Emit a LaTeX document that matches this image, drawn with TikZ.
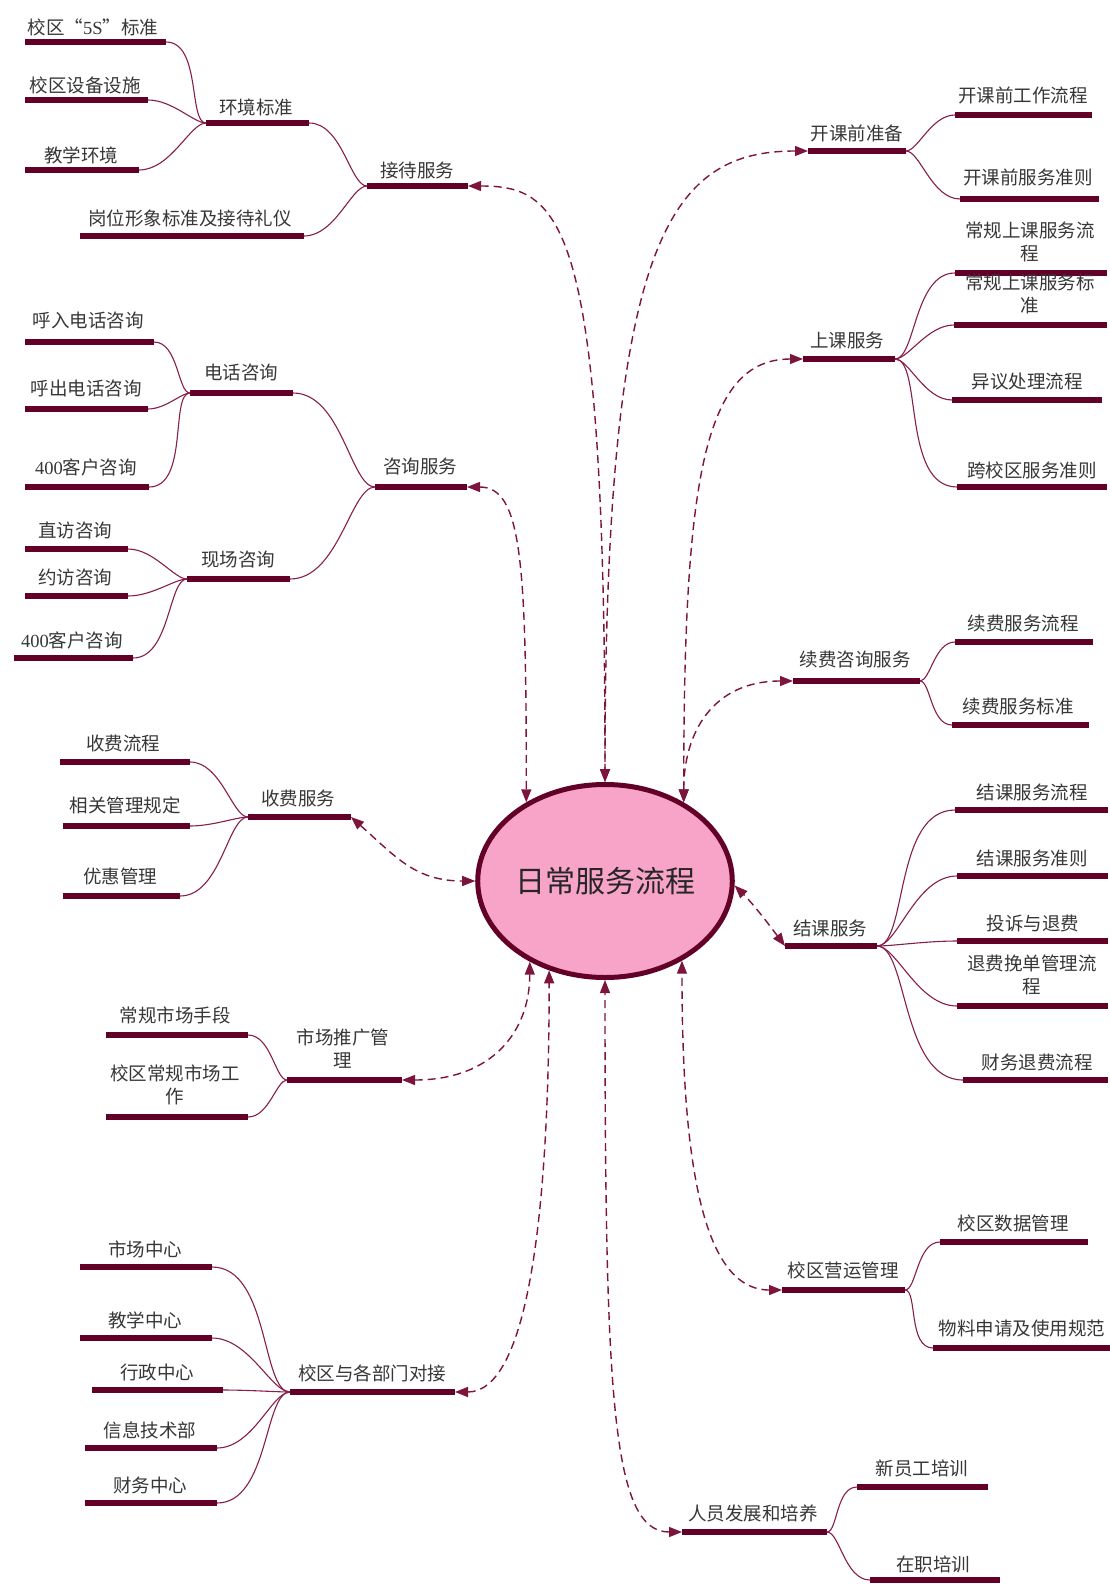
\documentclass[tikz,border=0pt]{standalone}
\usepackage{fontspec}
\setmainfont{Noto Sans CJK SC}
\newfontfamily\latinserif{Liberation Serif}
\usetikzlibrary{shapes.geometric,arrows.meta}
\definecolor{barcol}{RGB}{99,0,40}
\definecolor{twigcol}{RGB}{135,30,75}
\definecolor{dashcol}{RGB}{125,20,60}
\definecolor{pinkfill}{RGB}{248,164,200}
\definecolor{textcol}{RGB}{55,55,55}
\newcommand\mmbar[4]{\draw[barline] (#2,#4) coordinate (#1-l) -- (#3,#4) coordinate (#1-r);}
\begin{document}
\begin{tikzpicture}[x=1pt,y=-1pt,
  barline/.style={line width=5.8pt,draw=barcol,line cap=butt},
  twig/.style={line width=1.1pt,draw=twigcol},
  twigL/.style={twig,out=0,in=180,in looseness=0.5},
  twigR/.style={twig,out=0,in=180,out looseness=0.5},
  link/.style={line width=1.4pt,draw=dashcol,dash pattern=on 8pt off 5pt,
    {Triangle[length=13pt,width=10pt]}-{Triangle[length=13pt,width=10pt]}},
  lbl/.style={font=\fontsize{18.5pt}{23pt}\selectfont,text=textcol,inner sep=0pt,align=center},
  corestyle/.style={ellipse,draw=barcol,line width=5pt,fill=pinkfill,minimum width=250pt,
    minimum height=193pt,inner sep=0pt,font=\fontsize{30pt}{36pt}\selectfont,text=black!85}
]
\useasboundingbox (0,0) rectangle (1110,1584);
\fill[white] (0,0) rectangle (1110,1584);

% ---------- centre ----------
\node[corestyle] (core) at (605,881) {日常服务流程};

% ---------- left: 接待服务 ----------
\mmbar{k5s}{25}{166}{42}   \node[lbl] (k5s-t) at (93,27) {校区“{\latinserif 5S}”标准};
\mmbar{ksb}{25}{148}{100}  \node[lbl] (ksb-t) at (85,85) {校区设备设施};
\mmbar{kjx}{25}{139}{170}  \node[lbl] (kjx-t) at (81,155) {教学环境};
\mmbar{khj}{206}{309}{123} \node[lbl] (khj-t) at (256,107) {环境标准};
\mmbar{kjd}{367}{468}{186} \node[lbl] (kjd-t) at (417,170) {接待服务};
\mmbar{kgw}{80}{304}{236}  \node[lbl] (kgw-t) at (190,218) {岗位形象标准及接待礼仪};

% ---------- left: 咨询服务 ----------
\mmbar{khr}{25}{154}{342}  \node[lbl] (khr-t) at (88,321) {呼入电话咨询};
\mmbar{khc}{25}{148}{409}  \node[lbl] (khc-t) at (86,389) {呼出电话咨询};
\mmbar{kfa}{25}{149}{487}  \node[lbl] (kfa-t) at (86,467) {{\latinserif 400}客户咨询};
\mmbar{kdh}{190}{293}{393} \node[lbl] (kdh-t) at (241,373) {电话咨询};
\mmbar{kzx}{375}{467}{487} \node[lbl] (kzx-t) at (420,467) {咨询服务};
\mmbar{kzf}{25}{128}{549}  \node[lbl] (kzf-t) at (75,531) {直访咨询};
\mmbar{kyf}{25}{128}{596}  \node[lbl] (kyf-t) at (75,578) {约访咨询};
\mmbar{kfb}{14}{133}{658}  \node[lbl] (kfb-t) at (72,640) {{\latinserif 400}客户咨询};
\mmbar{kxc}{187}{290}{579} \node[lbl] (kxc-t) at (238,560) {现场咨询};

% ---------- left: 收费服务 ----------
\mmbar{klc}{60}{190}{762}  \node[lbl] (klc-t) at (123,743) {收费流程};
\mmbar{kgl}{63}{190}{826}  \node[lbl] (kgl-t) at (125,805) {相关管理规定};
\mmbar{kyh}{63}{180}{896}  \node[lbl] (kyh-t) at (120,876) {优惠管理};
\mmbar{ksf}{248}{351}{817} \node[lbl] (ksf-t) at (298,798) {收费服务};

% ---------- left: 市场推广管理 ----------
\mmbar{kcg}{106}{248}{1035} \node[lbl] (kcg-t) at (175,1015) {常规市场手段};
\mmbar{kxq}{106}{248}{1117} \node[lbl] (kxq-t) at (175,1085) {校区常规市场工\\作};
\mmbar{ktg}{287}{402}{1080} \node[lbl] (ktg-t) at (343,1049) {市场推广管\\理};

% ---------- left: 校区与各部门对接 ----------
\mmbar{ksc}{80}{212}{1267}  \node[lbl] (ksc-t) at (145,1249) {市场中心};
\mmbar{kjz}{80}{212}{1338}  \node[lbl] (kjz-t) at (145,1320) {教学中心};
\mmbar{kxz}{92}{223}{1390}  \node[lbl] (kxz-t) at (157,1372) {行政中心};
\mmbar{kxx}{85}{217}{1448}  \node[lbl] (kxx-t) at (150,1430) {信息技术部};
\mmbar{kcw}{85}{217}{1503}  \node[lbl] (kcw-t) at (150,1485) {财务中心};
\mmbar{kdj}{290}{455}{1392} \node[lbl] (kdj-t) at (372,1373) {校区与各部门对接};

% ---------- right: 开课前准备 ----------
\mmbar{kkq}{808}{906}{151}  \node[lbl] (kkq-t) at (857,133) {开课前准备};
\mmbar{kgz}{955}{1092}{115} \node[lbl] (kgz-t) at (1023,95) {开课前工作流程};
\mmbar{kfz}{960}{1099}{199} \node[lbl] (kfz-t) at (1028,177) {开课前服务准则};

% ---------- right: 上课服务 ----------
\mmbar{kcl}{955}{1107}{273} \node[lbl] (kcl-t) at (1030,242) {常规上课服务流\\程};
\mmbar{kcb}{954}{1107}{325} \node[lbl] (kcb-t) at (1030,294) {常规上课服务标\\准};
\mmbar{ksk}{803}{895}{359}  \node[lbl] (ksk-t) at (847,340) {上课服务};
\mmbar{kyy}{952}{1102}{400} \node[lbl] (kyy-t) at (1027,382) {异议处理流程};
\mmbar{kkx}{957}{1107}{487} \node[lbl] (kkx-t) at (1032,470) {跨校区服务准则};

% ---------- right: 续费咨询服务 ----------
\mmbar{kxf}{793}{920}{681}  \node[lbl] (kxf-t) at (855,660) {续费咨询服务};
\mmbar{kxl}{955}{1093}{642} \node[lbl] (kxl-t) at (1023,623) {续费服务流程};
\mmbar{kxb}{952}{1089}{725} \node[lbl] (kxb-t) at (1018,706) {续费服务标准};

% ---------- right: 结课服务 ----------
\mmbar{kjk}{785}{877}{946}   \node[lbl] (kjk-t) at (830,928) {结课服务};
\mmbar{kjl}{955}{1108}{810}  \node[lbl] (kjl-t) at (1032,792) {结课服务流程};
\mmbar{kjz2}{957}{1108}{876} \node[lbl] (kjz2-t) at (1032,858) {结课服务准则};
\mmbar{kts}{957}{1108}{941}  \node[lbl] (kts-t) at (1033,923) {投诉与退费};
\mmbar{ktw}{957}{1108}{1006} \node[lbl] (ktw-t) at (1032,975) {退费挽单管理流\\程};
\mmbar{kcf}{963}{1108}{1080} \node[lbl] (kcf-t) at (1037,1062) {财务退费流程};

% ---------- right: 校区营运管理 ----------
\mmbar{kyg}{782}{905}{1290}  \node[lbl] (kyg-t) at (843,1270) {校区营运管理};
\mmbar{ksj}{940}{1088}{1242} \node[lbl] (ksj-t) at (1013,1223) {校区数据管理};
\mmbar{kwl}{933}{1110}{1348} \node[lbl] (kwl-t) at (1022,1328) {物料申请及使用规范};

% ---------- right: 人员发展和培养 ----------
\mmbar{kry}{682}{827}{1532}  \node[lbl] (kry-t) at (753,1513) {人员发展和培养};
\mmbar{kxy}{857}{988}{1487}  \node[lbl] (kxy-t) at (922,1468) {新员工培训};
\mmbar{kzp}{870}{1000}{1580} \node[lbl] (kzp-t) at (933,1564) {在职培训};

% ---------- thin branch curves ----------
\foreach \c in {k5s,ksb,kjx} \draw[twigL] (\c-r) to (khj-l);
\foreach \c in {khj,kgw} \draw[twigL] (\c-r) to (kjd-l);
\foreach \c in {khr,khc,kfa} \draw[twigL] (\c-r) to (kdh-l);
\foreach \c in {kzf,kyf,kfb} \draw[twigL] (\c-r) to (kxc-l);
\foreach \c in {kdh,kxc} \draw[twigL] (\c-r) to (kzx-l);
\foreach \c in {klc,kgl,kyh} \draw[twigL] (\c-r) to (ksf-l);
\foreach \c in {kcg,kxq} \draw[twigL] (\c-r) to (ktg-l);
\foreach \c in {ksc,kjz,kxz,kxx,kcw} \draw[twigL] (\c-r) to (kdj-l);
\foreach \c in {kgz,kfz} \draw[twigR] (kkq-r) to (\c-l);
\foreach \c in {kcl,kcb,kyy,kkx} \draw[twigR] (ksk-r) to (\c-l);
\foreach \c in {kxl,kxb} \draw[twigR] (kxf-r) to (\c-l);
\foreach \c in {kjl,kjz2,kts,ktw,kcf} \draw[twigR] (kjk-r) to (\c-l);
\foreach \c in {ksj,kwl} \draw[twigR] (kyg-r) to (\c-l);
\foreach \c in {kxy,kzp} \draw[twigR] (kry-r) to (\c-l);

% ---------- dashed links to the centre ----------
\draw[link] (kjd-r) .. controls +(95,0) and +(0,-560) .. (core.90);
\draw[link] (kkq-l) .. controls +(-140,0) and +(0,-540) .. (core.90);
\draw[link] (kzx-r) .. controls +(55,0) and +(0,-240) .. (core.135);
\draw[link] (ksk-l) .. controls +(-100,0) and +(0,-320) .. (core.45);
\draw[link] (kxf-l) .. controls +(-80,0) and +(0,-70) .. (core.45);
\draw[link] (ksf-r) .. controls +(45,40) and +(-60,0) .. (core.180);
\draw[link] (ktg-r) .. controls +(90,0) and +(0,70) .. (core.227);
\draw[link] (kdj-r) .. controls +(70,0) and +(0,260) .. (core.238);
\draw[link] (kry-l) .. controls +(-70,0) and +(0,420) .. (core.270);
\draw[link] (kyg-l) .. controls +(-80,0) and +(0,200) .. (core.314);
\draw[link] (kjk-l) .. controls +(-15,-20) and +(20,20) .. (core.358);
\end{tikzpicture}
\end{document}
